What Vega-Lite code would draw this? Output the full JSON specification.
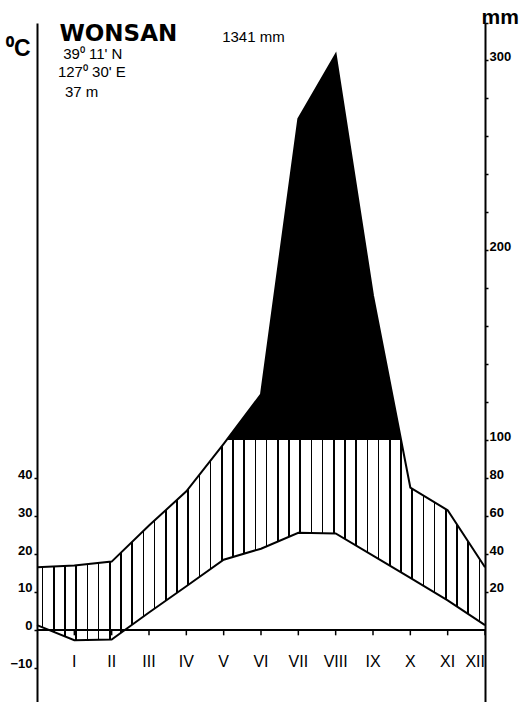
{
  "$schema": "https://vega.github.io/schema/vega-lite/v6.json",
  "width": 448,
  "height": 679,
  "autosize": {"type": "none"},
  "padding": {"left": 37, "top": 23, "right": 41, "bottom": 0},
  "background": "white",
  "config": {
    "view": {"stroke": null},
    "axis": {"grid": false, "domainColor": "black", "domainWidth": 2, "tickColor": "black", "tickWidth": 1.5, "labelColor": "black", "titleColor": "black"}
  },
  "data": {
    "values": [
      {"m": 0, "mon": "", "temp": 1.3, "precip": 33},
      {"m": 1, "mon": "I", "temp": -2.7, "precip": 34},
      {"m": 2, "mon": "II", "temp": -2.5, "precip": 36},
      {"m": 3, "mon": "III", "temp": 4.6, "precip": 55},
      {"m": 4, "mon": "IV", "temp": 11.5, "precip": 73},
      {"m": 5, "mon": "V", "temp": 18.5, "precip": 98},
      {"m": 6, "mon": "VI", "temp": 21.4, "precip": 124},
      {"m": 7, "mon": "VII", "temp": 25.6, "precip": 269},
      {"m": 8, "mon": "VIII", "temp": 25.4, "precip": 303},
      {"m": 9, "mon": "IX", "temp": 19.6, "precip": 176},
      {"m": 10, "mon": "X", "temp": 13.7, "precip": 75},
      {"m": 11, "mon": "XI", "temp": 7.8, "precip": 63},
      {"m": 12, "mon": "XII", "temp": 1.3, "precip": 33}
    ]
  },
  "layer": [
    {
      "mark": {"type": "area", "orient": "vertical", "color": {"gradient": "linear", "x1": 0, "y1": 0, "x2": 1, "y2": 0, "stops": [
        {"offset": 0, "color": "#fff"},
        {"offset": 0.0105, "color": "#fff"}, {"offset": 0.0105, "color": "#000"}, {"offset": 0.0145, "color": "#000"}, {"offset": 0.0145, "color": "#fff"},
        {"offset": 0.0355, "color": "#fff"}, {"offset": 0.0355, "color": "#000"}, {"offset": 0.0395, "color": "#000"}, {"offset": 0.0395, "color": "#fff"},
        {"offset": 0.0605, "color": "#fff"}, {"offset": 0.0605, "color": "#000"}, {"offset": 0.0645, "color": "#000"}, {"offset": 0.0645, "color": "#fff"},
        {"offset": 0.0855, "color": "#fff"}, {"offset": 0.0855, "color": "#000"}, {"offset": 0.0895, "color": "#000"}, {"offset": 0.0895, "color": "#fff"},
        {"offset": 0.1105, "color": "#fff"}, {"offset": 0.1105, "color": "#000"}, {"offset": 0.1145, "color": "#000"}, {"offset": 0.1145, "color": "#fff"},
        {"offset": 0.1355, "color": "#fff"}, {"offset": 0.1355, "color": "#000"}, {"offset": 0.1395, "color": "#000"}, {"offset": 0.1395, "color": "#fff"},
        {"offset": 0.1605, "color": "#fff"}, {"offset": 0.1605, "color": "#000"}, {"offset": 0.1645, "color": "#000"}, {"offset": 0.1645, "color": "#fff"},
        {"offset": 0.1855, "color": "#fff"}, {"offset": 0.1855, "color": "#000"}, {"offset": 0.1895, "color": "#000"}, {"offset": 0.1895, "color": "#fff"},
        {"offset": 0.2105, "color": "#fff"}, {"offset": 0.2105, "color": "#000"}, {"offset": 0.2145, "color": "#000"}, {"offset": 0.2145, "color": "#fff"},
        {"offset": 0.2355, "color": "#fff"}, {"offset": 0.2355, "color": "#000"}, {"offset": 0.2395, "color": "#000"}, {"offset": 0.2395, "color": "#fff"},
        {"offset": 0.2605, "color": "#fff"}, {"offset": 0.2605, "color": "#000"}, {"offset": 0.2645, "color": "#000"}, {"offset": 0.2645, "color": "#fff"},
        {"offset": 0.2855, "color": "#fff"}, {"offset": 0.2855, "color": "#000"}, {"offset": 0.2895, "color": "#000"}, {"offset": 0.2895, "color": "#fff"},
        {"offset": 0.3105, "color": "#fff"}, {"offset": 0.3105, "color": "#000"}, {"offset": 0.3145, "color": "#000"}, {"offset": 0.3145, "color": "#fff"},
        {"offset": 0.3355, "color": "#fff"}, {"offset": 0.3355, "color": "#000"}, {"offset": 0.3395, "color": "#000"}, {"offset": 0.3395, "color": "#fff"},
        {"offset": 0.3605, "color": "#fff"}, {"offset": 0.3605, "color": "#000"}, {"offset": 0.3645, "color": "#000"}, {"offset": 0.3645, "color": "#fff"},
        {"offset": 0.3855, "color": "#fff"}, {"offset": 0.3855, "color": "#000"}, {"offset": 0.3895, "color": "#000"}, {"offset": 0.3895, "color": "#fff"},
        {"offset": 0.4105, "color": "#fff"}, {"offset": 0.4105, "color": "#000"}, {"offset": 0.4145, "color": "#000"}, {"offset": 0.4145, "color": "#fff"},
        {"offset": 0.4355, "color": "#fff"}, {"offset": 0.4355, "color": "#000"}, {"offset": 0.4395, "color": "#000"}, {"offset": 0.4395, "color": "#fff"},
        {"offset": 0.4605, "color": "#fff"}, {"offset": 0.4605, "color": "#000"}, {"offset": 0.4645, "color": "#000"}, {"offset": 0.4645, "color": "#fff"},
        {"offset": 0.4855, "color": "#fff"}, {"offset": 0.4855, "color": "#000"}, {"offset": 0.4895, "color": "#000"}, {"offset": 0.4895, "color": "#fff"},
        {"offset": 0.5105, "color": "#fff"}, {"offset": 0.5105, "color": "#000"}, {"offset": 0.5145, "color": "#000"}, {"offset": 0.5145, "color": "#fff"},
        {"offset": 0.5355, "color": "#fff"}, {"offset": 0.5355, "color": "#000"}, {"offset": 0.5395, "color": "#000"}, {"offset": 0.5395, "color": "#fff"},
        {"offset": 0.5605, "color": "#fff"}, {"offset": 0.5605, "color": "#000"}, {"offset": 0.5645, "color": "#000"}, {"offset": 0.5645, "color": "#fff"},
        {"offset": 0.5855, "color": "#fff"}, {"offset": 0.5855, "color": "#000"}, {"offset": 0.5895, "color": "#000"}, {"offset": 0.5895, "color": "#fff"},
        {"offset": 0.6105, "color": "#fff"}, {"offset": 0.6105, "color": "#000"}, {"offset": 0.6145, "color": "#000"}, {"offset": 0.6145, "color": "#fff"},
        {"offset": 0.6355, "color": "#fff"}, {"offset": 0.6355, "color": "#000"}, {"offset": 0.6395, "color": "#000"}, {"offset": 0.6395, "color": "#fff"},
        {"offset": 0.6605, "color": "#fff"}, {"offset": 0.6605, "color": "#000"}, {"offset": 0.6645, "color": "#000"}, {"offset": 0.6645, "color": "#fff"},
        {"offset": 0.6855, "color": "#fff"}, {"offset": 0.6855, "color": "#000"}, {"offset": 0.6895, "color": "#000"}, {"offset": 0.6895, "color": "#fff"},
        {"offset": 0.7105, "color": "#fff"}, {"offset": 0.7105, "color": "#000"}, {"offset": 0.7145, "color": "#000"}, {"offset": 0.7145, "color": "#fff"},
        {"offset": 0.7355, "color": "#fff"}, {"offset": 0.7355, "color": "#000"}, {"offset": 0.7395, "color": "#000"}, {"offset": 0.7395, "color": "#fff"},
        {"offset": 0.7605, "color": "#fff"}, {"offset": 0.7605, "color": "#000"}, {"offset": 0.7645, "color": "#000"}, {"offset": 0.7645, "color": "#fff"},
        {"offset": 0.7855, "color": "#fff"}, {"offset": 0.7855, "color": "#000"}, {"offset": 0.7895, "color": "#000"}, {"offset": 0.7895, "color": "#fff"},
        {"offset": 0.8105, "color": "#fff"}, {"offset": 0.8105, "color": "#000"}, {"offset": 0.8145, "color": "#000"}, {"offset": 0.8145, "color": "#fff"},
        {"offset": 0.8355, "color": "#fff"}, {"offset": 0.8355, "color": "#000"}, {"offset": 0.8395, "color": "#000"}, {"offset": 0.8395, "color": "#fff"},
        {"offset": 0.8605, "color": "#fff"}, {"offset": 0.8605, "color": "#000"}, {"offset": 0.8645, "color": "#000"}, {"offset": 0.8645, "color": "#fff"},
        {"offset": 0.8855, "color": "#fff"}, {"offset": 0.8855, "color": "#000"}, {"offset": 0.8895, "color": "#000"}, {"offset": 0.8895, "color": "#fff"},
        {"offset": 0.9105, "color": "#fff"}, {"offset": 0.9105, "color": "#000"}, {"offset": 0.9145, "color": "#000"}, {"offset": 0.9145, "color": "#fff"},
        {"offset": 0.9355, "color": "#fff"}, {"offset": 0.9355, "color": "#000"}, {"offset": 0.9395, "color": "#000"}, {"offset": 0.9395, "color": "#fff"},
        {"offset": 0.9605, "color": "#fff"}, {"offset": 0.9605, "color": "#000"}, {"offset": 0.9645, "color": "#000"}, {"offset": 0.9645, "color": "#fff"},
        {"offset": 0.9855, "color": "#fff"}, {"offset": 0.9855, "color": "#000"}, {"offset": 0.9895, "color": "#000"}, {"offset": 0.9895, "color": "#fff"},
        {"offset": 1, "color": "#fff"}
      ]}},
      "encoding": {
        "x": {"field": "m", "type": "quantitative", "scale": {"domain": [0, 12], "nice": false, "zero": false}, "axis": null},
        "y": {"field": "precip", "type": "quantitative", "scale": {"domain": [-37.9, 319.5], "nice": false, "zero": false}, "axis": null},
        "y2": {"datum": -37.9}
      }
    },
    {
      "mark": {"type": "area", "orient": "vertical", "color": "black"},
      "encoding": {
        "x": {"field": "m", "type": "quantitative", "axis": null},
        "y": {"field": "precip", "type": "quantitative", "scale": {"domain": [-37.9, 319.5], "nice": false, "zero": false}, "axis": null},
        "y2": {"datum": 100}
      }
    },
    {
      "mark": {"type": "area", "orient": "vertical", "color": "white"},
      "encoding": {
        "x": {"field": "m", "type": "quantitative", "axis": null},
        "y": {"field": "precip", "type": "quantitative", "scale": {"domain": [-37.9, 319.5], "nice": false, "zero": false}, "axis": null},
        "y2": {"datum": 319.5}
      }
    },
    {
      "mark": {"type": "area", "orient": "vertical", "color": "white"},
      "encoding": {
        "x": {"field": "m", "type": "quantitative", "axis": null},
        "y": {"field": "temp", "type": "quantitative", "scale": {"domain": [-18.95, 159.75], "nice": false, "zero": false}, "axis": null},
        "y2": {"datum": -18.95}
      }
    },
    {
      "transform": [{"filter": "datum.m == 0"}],
      "mark": {"type": "rule", "color": "black", "strokeWidth": 2},
      "encoding": {
        "x": {"datum": 0, "type": "quantitative", "axis": null},
        "x2": {"datum": 12},
        "y": {"datum": 0, "type": "quantitative", "scale": {"domain": [-18.95, 159.75], "nice": false, "zero": false}, "axis": null}
      }
    },
    {
      "transform": [{"filter": "datum.m >= 1"}],
      "mark": {"type": "rule", "color": "black", "strokeWidth": 1.5},
      "encoding": {
        "x": {"field": "m", "type": "quantitative", "axis": null},
        "y": {"datum": 0, "type": "quantitative", "scale": {"domain": [-18.95, 159.75], "nice": false, "zero": false}, "axis": null},
        "y2": {"datum": -1.4}
      }
    },
    {
      "transform": [{"filter": "datum.m >= 1 && datum.m <= 11"}],
      "mark": {"type": "text", "align": "center", "baseline": "alphabetic", "font": "'Liberation Sans', Arial, sans-serif", "fontSize": 16, "color": "black"},
      "encoding": {
        "x": {"field": "m", "type": "quantitative", "axis": null},
        "y": {"datum": -9.7, "type": "quantitative", "scale": {"domain": [-18.95, 159.75], "nice": false, "zero": false}, "axis": null},
        "text": {"field": "mon"}
      }
    },
    {
      "transform": [{"filter": "datum.m == 12"}],
      "mark": {"type": "text", "align": "right", "baseline": "alphabetic", "font": "'Liberation Sans', Arial, sans-serif", "fontSize": 16, "color": "black"},
      "encoding": {
        "x": {"field": "m", "type": "quantitative", "axis": null},
        "y": {"datum": -9.7, "type": "quantitative", "scale": {"domain": [-18.95, 159.75], "nice": false, "zero": false}, "axis": null},
        "text": {"field": "mon"}
      }
    },
    {
      "mark": {"type": "line", "stroke": "black", "strokeWidth": 2},
      "encoding": {
        "x": {"field": "m", "type": "quantitative", "axis": null},
        "y": {"field": "precip", "type": "quantitative", "scale": {"domain": [-37.9, 319.5], "nice": false, "zero": false},
          "axis": {"orient": "right", "zindex": 2, "title": "mm", "titleAngle": 0, "titleAlign": "left", "titleBaseline": "alphabetic", "titleX": -4, "titleY": 0,
            "titleFont": "'Liberation Sans', Arial, sans-serif", "titleFontSize": 21, "titleFontWeight": "bold",
            "values": [20, 40, 60, 80, 100, 120, 140, 160, 180, 200, 220, 240, 260, 280, 300, 319.5],
            "labelExpr": "indexof([20,40,60,80,100,200,300], datum.value) >= 0 ? datum.label : ''",
            "tickSize": 3, "labelPadding": 1, "labelBaseline": "alphabetic", "labelFont": "'Liberation Sans', Arial, sans-serif", "labelFontSize": 13, "labelFontWeight": "bold"}}
      }
    },
    {
      "mark": {"type": "line", "stroke": "black", "strokeWidth": 2},
      "encoding": {
        "x": {"field": "m", "type": "quantitative", "axis": null},
        "y": {"field": "temp", "type": "quantitative", "scale": {"domain": [-18.95, 159.75], "nice": false, "zero": false},
          "axis": {"orient": "left", "zindex": 2, "title": "⁰C", "titleAngle": 0, "titleAlign": "right", "titleBaseline": "alphabetic", "titleX": -7, "titleY": 32,
            "titleFont": "'Liberation Sans', Arial, sans-serif", "titleFontSize": 23, "titleFontWeight": "bold",
            "values": [-10, 0, 10, 20, 30, 40], "tickSize": 3, "labelPadding": 2, "labelBaseline": "alphabetic",
            "labelFont": "'Liberation Sans', Arial, sans-serif", "labelFontSize": 13, "labelFontWeight": "bold"}}
      }
    },
    {
      "transform": [{"filter": "datum.m == 0"}],
      "mark": {"type": "text", "text": "WONSAN", "align": "left", "baseline": "alphabetic", "font": "'DejaVu Sans', 'Liberation Sans', sans-serif", "fontSize": 23, "fontWeight": "bold", "color": "black"},
      "encoding": {"x": {"datum": 0.6, "type": "quantitative", "axis": null}, "y": {"datum": 310, "type": "quantitative", "scale": {"domain": [-37.9, 319.5], "nice": false, "zero": false}, "axis": null}}
    },
    {
      "transform": [{"filter": "datum.m == 0"}],
      "mark": {"type": "text", "text": "39⁰ 11' N", "align": "left", "baseline": "alphabetic", "font": "'Liberation Sans', Arial, sans-serif", "fontSize": 15, "color": "black"},
      "encoding": {"x": {"datum": 0.7, "type": "quantitative", "axis": null}, "y": {"datum": 300.5, "type": "quantitative", "scale": {"domain": [-37.9, 319.5], "nice": false, "zero": false}, "axis": null}}
    },
    {
      "transform": [{"filter": "datum.m == 0"}],
      "mark": {"type": "text", "text": "127⁰ 30' E", "align": "left", "baseline": "alphabetic", "font": "'Liberation Sans', Arial, sans-serif", "fontSize": 15, "color": "black"},
      "encoding": {"x": {"datum": 0.56, "type": "quantitative", "axis": null}, "y": {"datum": 291, "type": "quantitative", "scale": {"domain": [-37.9, 319.5], "nice": false, "zero": false}, "axis": null}}
    },
    {
      "transform": [{"filter": "datum.m == 0"}],
      "mark": {"type": "text", "text": "37 m", "align": "left", "baseline": "alphabetic", "font": "'Liberation Sans', Arial, sans-serif", "fontSize": 15, "color": "black"},
      "encoding": {"x": {"datum": 0.75, "type": "quantitative", "axis": null}, "y": {"datum": 280.5, "type": "quantitative", "scale": {"domain": [-37.9, 319.5], "nice": false, "zero": false}, "axis": null}}
    },
    {
      "transform": [{"filter": "datum.m == 0"}],
      "mark": {"type": "text", "text": "1341 mm", "align": "left", "baseline": "alphabetic", "font": "'Liberation Sans', Arial, sans-serif", "fontSize": 15, "color": "black"},
      "encoding": {"x": {"datum": 4.96, "type": "quantitative", "axis": null}, "y": {"datum": 309.5, "type": "quantitative", "scale": {"domain": [-37.9, 319.5], "nice": false, "zero": false}, "axis": null}}
    }
  ],
  "resolve": {"scale": {"y": "independent"}}
}
